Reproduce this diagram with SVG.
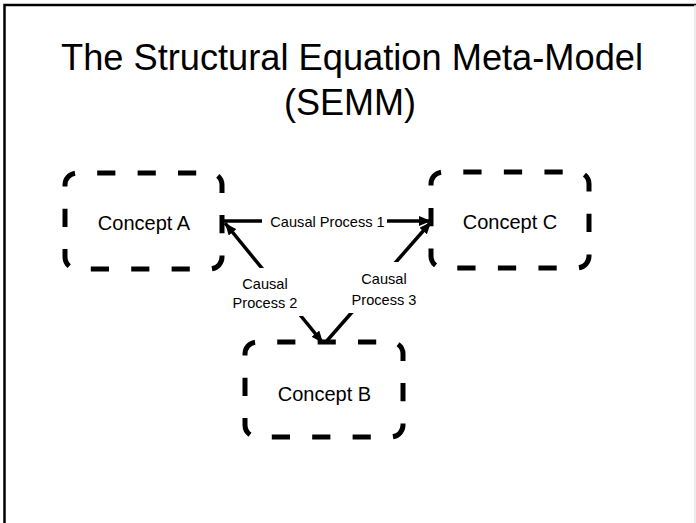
<svg xmlns="http://www.w3.org/2000/svg" width="696" height="523" viewBox="0 0 696 523">
  <defs>
    <style>
      .frame { fill: none; stroke: #000; stroke-width: 2.5; }
      .box { fill: none; stroke: #000; stroke-width: 5; stroke-dasharray: 18 22; stroke-dashoffset: 20; }
      .title { font-family: "Liberation Sans", Arial, sans-serif; font-size: 36px; fill: #000; text-anchor: middle; }
      .node-label { font-family: "Liberation Sans", Arial, sans-serif; font-size: 20px; fill: #000; text-anchor: middle; }
      .edge-label { font-family: "Liberation Sans", Arial, sans-serif; font-size: 14.6px; fill: #000; text-anchor: middle; }
      .edge { stroke: #000; stroke-width: 3.5; fill: none; }
      .label-bg { fill: #fff; }
    </style>
    <marker id="arrow" viewBox="0 0 12 10" refX="12" refY="5" markerWidth="12" markerHeight="10" markerUnits="userSpaceOnUse" orient="auto-start-reverse">
      <path d="M0,0 L12,5 L0,10 Z" fill="#000"/>
    </marker>
  </defs>

  <rect x="0" y="0" width="696" height="523" fill="#fff"/>
  <path class="frame" d="M4.5,523 V5 H696"/>
  <line x1="695" y1="5" x2="695" y2="523" stroke="#e6e6e6" stroke-width="1.5"/>

  <g id="title">
    <text class="title" x="352" y="70" textLength="582" lengthAdjust="spacingAndGlyphs">The Structural Equation Meta-Model</text>
    <text class="title" x="350" y="115">(SEMM)</text>
  </g>

  <g id="connectors">
    <g id="edge-1">
      <line class="edge" x1="224" y1="221" x2="431" y2="221" marker-end="url(#arrow)"/>
      <rect class="label-bg" x="262" y="211" width="125" height="21"/>
      <text class="edge-label" x="327.5" y="227">Causal Process 1</text>
    </g>
    <g id="edge-2">
      <line class="edge" x1="225" y1="223" x2="323" y2="343" marker-start="url(#arrow)" marker-end="url(#arrow)"/>
      <rect class="label-bg" x="231" y="268" width="72" height="48"/>
      <text class="edge-label" x="265" y="289">Causal</text>
      <text class="edge-label" x="265" y="308">Process 2</text>
    </g>
    <g id="edge-3">
      <line class="edge" x1="325" y1="343" x2="431" y2="222" marker-end="url(#arrow)"/>
      <rect class="label-bg" x="348" y="262" width="72" height="51"/>
      <text class="edge-label" x="384" y="284">Causal</text>
      <text class="edge-label" x="384" y="305">Process 3</text>
    </g>
  </g>

  <g id="concept-a">
    <rect class="box" x="65" y="173" width="157" height="96" rx="12" ry="12" pathLength="480"/>
    <text class="node-label" x="144" y="230">Concept A</text>
  </g>
  <g id="concept-c">
    <rect class="box" x="431" y="172" width="158" height="96" rx="12" ry="12" pathLength="480"/>
    <text class="node-label" x="510" y="229">Concept C</text>
  </g>
  <g id="concept-b">
    <rect class="box" x="245" y="342" width="158" height="95" rx="12" ry="12" pathLength="480"/>
    <text class="node-label" x="324.5" y="401">Concept B</text>
  </g>
</svg>
